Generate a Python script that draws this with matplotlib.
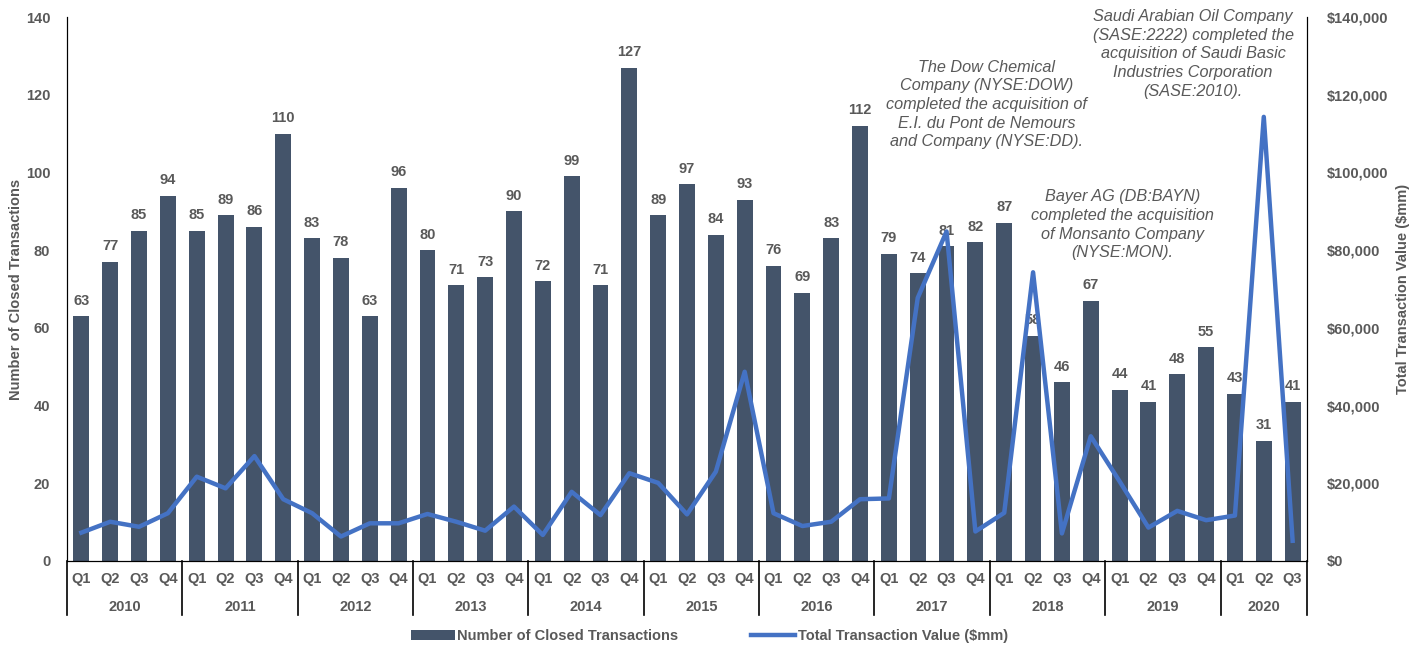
import matplotlib.pyplot as plt
from matplotlib.ticker import FuncFormatter
import matplotlib.transforms as mtransforms

plt.rcParams['font.family'] = ['Liberation Sans', 'DejaVu Sans']

years = ['2010', '2011', '2012', '2013', '2014', '2015', '2016',
         '2017', '2018', '2019', '2020']
quarters = ['Q1', 'Q2', 'Q3', 'Q4']

# number of closed transactions per quarter (2010 Q1 .. 2020 Q3)
deals = [63, 77, 85, 94, 85, 89, 86, 110, 83, 78, 63, 96,
         80, 71, 73, 90, 72, 99, 71, 127, 89, 97, 84, 93,
         76, 69, 83, 112, 79, 74, 81, 82, 87, 58, 46, 67,
         44, 41, 48, 55, 43, 31, 41]

# total transaction value, $mm
value = [7300, 10100, 8800, 12300, 21700, 18700, 27000, 15900,
         12300, 6300, 9700, 9700, 12100, 10100, 7800, 14000,
         6700, 17800, 11800, 22600, 20100, 12000, 23000, 48700,
         12300, 9000, 10100, 15900, 16100, 67700, 84800, 7600,
         12400, 74300, 7100, 32100, 20500, 8600, 12900, 10500,
         11700, 114300, 5200]

notes = [
    (31.4, 'The Dow Chemical\nCompany (NYSE:DOW)\ncompleted the acquisition of\nE.I. du Pont de Nemours\nand Company (NYSE:DD).', 117500),
    (36.1, 'Bayer AG (DB:BAYN)\ncompleted the acquisition\nof Monsanto Company\n(NYSE:MON).', 86500),
    (38.55, 'Saudi Arabian Oil Company\n(SASE:2222) completed the\nacquisition of Saudi Basic\nIndustries Corporation\n(SASE:2010).', 130500),
]

bar_col = '#44546A'
line_col = '#4472C4'
txt_col = '#595959'

labels_q = []
for y in years:
    for q in quarters:
        labels_q.append(q)
labels_q = labels_q[:len(deals)]
x = list(range(len(deals)))

fig = plt.figure(figsize=(14.19, 6.49), dpi=100)
ax = fig.add_axes([0.0472, 0.1356, 0.8739, 0.8382])
ax2 = ax.twinx()

ax.bar(x, deals, width=0.55, color=bar_col, label='Number of Closed Transactions', zorder=2)
for i, v in enumerate(deals):
    ax.text(i, v + 2.2, str(v), ha='center', va='bottom', fontsize=10.5,
            fontweight='bold', color=txt_col, zorder=3)

ax2.plot(x, value, color=line_col, lw=3.2, label='Total Transaction Value ($mm)', zorder=4)

ax.set_xlim(-0.5, len(deals) - 0.5)
ax.set_ylim(0, 140)
ax2.set_ylim(0, 140000)
ax.set_yticks(range(0, 141, 20))
ax2.set_yticks(range(0, 140001, 20000))
ax2.yaxis.set_major_formatter(FuncFormatter(lambda v, p: '${:,.0f}'.format(v)))

for a in (ax, ax2):
    a.tick_params(length=0, labelsize=10.5, labelcolor=txt_col)
    for t in a.get_yticklabels():
        t.set_fontweight('bold')
    a.spines['top'].set_visible(False)
ax.tick_params(axis='y', pad=12)
ax2.tick_params(axis='y', pad=14)
ax.set_xticks([])

ax.set_ylabel('Number of Closed Transactions', fontsize=10.5, fontweight='bold',
              color=txt_col, labelpad=2)
ax2.set_ylabel('Total Transaction Value ($mm)', fontsize=10.5, fontweight='bold',
               color=txt_col, labelpad=6)

# two level category axis
trans = mtransforms.blended_transform_factory(ax.transData, ax.transAxes)
for i, q in enumerate(labels_q):
    ax.text(i, -0.033, q, transform=trans, ha='center', va='center',
            fontsize=10.5, fontweight='bold', color=txt_col)
for k, yr in enumerate(years):
    start = 4 * k
    end = min(4 * k + 3, len(deals) - 1)
    ax.text((start + end) / 2, -0.085, yr, transform=trans, ha='center', va='center',
            fontsize=10.5, fontweight='bold', color=txt_col)
    ax.plot([start - 0.5, start - 0.5], [0, -0.10], transform=trans, color='black',
            lw=1.2, clip_on=False)
ax.plot([len(deals) - 0.5] * 2, [0, -0.10], transform=trans, color='black',
        lw=1.2, clip_on=False)

for xi, txt, yv in notes:
    ax2.text(xi, yv, txt, ha='center', va='center', fontsize=11.7, style='italic',
             color=txt_col, linespacing=1.3, clip_on=False)

h1, l1 = ax.get_legend_handles_labels()
h2, l2 = ax2.get_legend_handles_labels()
fig.legend(h1 + h2, l1 + l2, loc='center', bbox_to_anchor=(0.5, 0.02), ncol=2,
           frameon=False, handlelength=3, columnspacing=5,
           handletextpad=0.2, labelcolor=txt_col, prop={'weight': 'bold', 'size': 10.5})

fig.savefig('out.png', dpi=100)
